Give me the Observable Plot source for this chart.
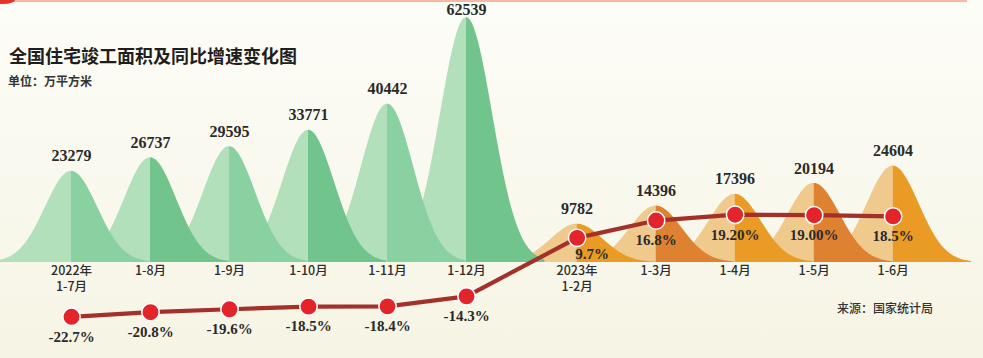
<!DOCTYPE html>
<html><head><meta charset="utf-8">
<script src="https://cdn.jsdelivr.net/npm/d3@7"></script>
<script src="https://cdn.jsdelivr.net/npm/@observablehq/plot@0.6"></script>
<style>
html,body{margin:0;padding:0;background:#f8f7ee;}
#wrap{position:relative;width:983px;height:358px;overflow:hidden;background:linear-gradient(#fdfdf8,#f6f4e4);}
#chart{position:absolute;left:0;top:0;}
.t{position:absolute;white-space:nowrap;font-family:"Noto Sans CJK SC",sans-serif;line-height:1;color:#262626;}
#title{left:9px;top:46px;font-size:18px;font-weight:700;color:#1e1e1e;}
#unit{left:8px;top:75px;font-size:12px;font-weight:700;color:#333;}
#source{left:837px;top:302px;font-size:12px;font-weight:500;color:#333;}
#topline{position:absolute;left:0;top:0;width:967px;height:2px;background:#f7b9a2;}
#corner{position:absolute;left:0;top:0;width:15px;height:4px;background:#e8322a;border-bottom-right-radius:12px 4px;}
</style></head><body>
<div id="wrap">
  <div id="chart"></div>
  <div id="topline"></div>
  <div id="corner"></div>
  <div class="t" id="title">全国住宅竣工面积及同比增速变化图</div>
  <div class="t" id="unit">单位：万平方米</div>
  <div class="t" id="source">来源：国家统计局</div>
</div>
<script>
// ---- data ----
const periods = ["2022年\n1-7月","1-8月","1-9月","1-10月","1-11月","1-12月","2023年\n1-2月","1-3月","1-4月","1-5月","1-6月"];
const years = [2022,2022,2022,2022,2022,2022,2023,2023,2023,2023,2023];
const areaValues = [23279,26737,29595,33771,40442,62539,9782,14396,17396,20194,24604];
const growthValues = [-22.7,-20.8,-19.6,-18.5,-18.4,-14.3,9.7,16.8,19.2,19.0,18.5];
const growthLabels = ["-22.7%","-20.8%","-19.6%","-18.5%","-18.4%","-14.3%","9.7%","16.8%","19.20%","19.00%","18.5%"];

// ---- layout / style constants ----
const yearGap = 0.4;      // extra spacing between the two years
const sigma = 0.33;       // bell width in category units
const rateFactor = 622;   // maps growth % onto the area axis (dual scale)
const rateOffset = 255;
const yMax = 66878, pxUnit = 255;
const colors = {
  2022: {left: "#b2e0bb", right: ["#8ad1a2", "#71c48b"]},
  2023: {left: "#f0c98c", right: ["#e99b26", "#de8131"]}
};

const rows = periods.map((p, i) => ({
  i, period: p, year: years[i], area: areaValues[i], growth: growthValues[i], label: growthLabels[i],
  x: i + (years[i] === 2023 ? yearGap : 0),
  labelY: Math.min(areaValues[i] + 15 * pxUnit, yMax - 9 * pxUnit),
  yRate: growthValues[i] * rateFactor + rateOffset
}));

// bell glyph outlines (shape only, height from the data value); later ones drawn first
const bells = [];
const steps = 40;
[...rows].reverse().forEach(r => {
  const c = colors[r.year];
  const first = r.year === 2022 ? 0 : 6;
  ["left", "right"].forEach(side => {
    const key = r.i + side;
    const fill = side === "left" ? c.left : c.right[(r.i - first) % 2];
    for (let k = 0; k <= steps; k++) {
      const t = side === "left" ? -3 * sigma + 3 * sigma * k / steps : 3 * sigma * k / steps;
      bells.push({key, fill, x: r.x + t, y: r.area * Math.exp(-(t * t) / (2 * sigma * sigma))});
    }
  });
});

const serif = "'Liberation Serif', 'DejaVu Serif', serif";
const rateText = {x: "x", y: "yRate", text: "label", dy: 20, lineAnchor: "middle",
  fontFamily: serif, fontWeight: "bold", fontSize: 15, fill: "#2a2a2a"};
const chart = Plot.plot({
  width: 983, height: 358, margin: 0,
  style: {background: "transparent", overflow: "visible"},
  x: {domain: [-0.899, 11.544], axis: null},
  y: {domain: [-24505, yMax], axis: null},
  marks: [
    Plot.areaY(bells, {x: "x", y1: 0, y2: "y", z: "key", fill: "fill", curve: "linear"}),
    Plot.text(rows, {x: "x", y: "labelY", text: d => String(d.area), lineAnchor: "middle",
      fontFamily: serif, fontWeight: "bold", fontSize: 16, fill: "#2a2a2a"}),
    Plot.text(rows, {x: "x", y: 0, text: "period", dy: 1, lineAnchor: "top", lineHeight: 1.3,
      fontFamily: "'Noto Sans CJK SC', sans-serif", fontWeight: 500, fontSize: 12.5, fill: "#2e2e2e"}),
    Plot.line(rows, {x: "x", y: "yRate", stroke: "#a3312a", strokeWidth: 4.2, curve: "linear"}),
    Plot.dot(rows, {x: "x", y: "yRate", r: 8.7, fill: "#e3242b", stroke: "#ffffff", strokeWidth: 1.5}),
    Plot.text(rows.filter(d => d.i !== 6), rateText),
    Plot.text(rows.filter(d => d.i === 6), {...rateText, dx: 15, dy: 16})
  ]
});
document.getElementById("chart").appendChild(chart);
</script>
</body></html>
